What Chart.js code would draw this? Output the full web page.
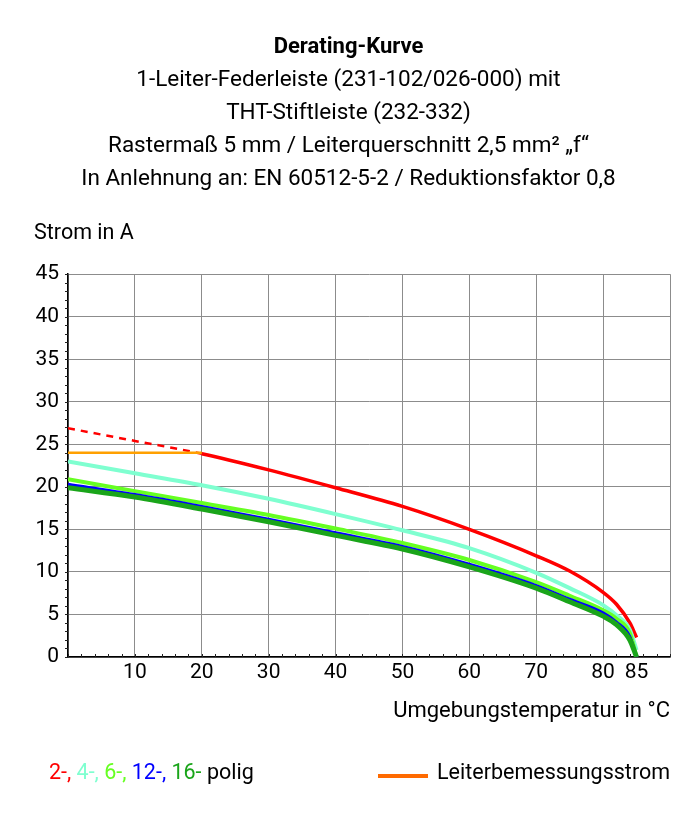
<!DOCTYPE html>
<html>
<head>
<meta charset="utf-8">
<script src="https://cdn.jsdelivr.net/npm/chart.js@4.4.1/dist/chart.umd.min.js"></script>
<style>
  body { margin: 0; background: #fff; }
  canvas { display: block; }
</style>
</head>
<body>
<canvas id="grafico" width="697" height="819"></canvas>
<script>
// Temperaturen (x) und Ströme je Polzahl (y)
const temperaturen = [0, 10, 20, 30, 40, 50, 60, 70, 75, 80, 82, 84, 85];
const strom2pol  = [26.9, 25.4, 23.9, 22.0, 19.9, 17.7, 15.0, 11.9, 10.1, 7.6, 6.2, 4.0, 2.3];
const strom4pol  = [23.0, 21.6, 20.2, 18.6, 16.8, 14.9, 12.8, 9.9, 8.1, 6.1, 4.9, 3.2, 0.8];
const strom6pol  = [20.9, 19.5, 18.1, 16.7, 15.1, 13.4, 11.4, 8.8, 7.2, 5.5, 4.5, 2.8, 0];
const strom12pol = [20.3, 19.1, 17.7, 16.2, 14.6, 13.0, 10.9, 8.4, 6.8, 5.2, 4.1, 2.4, 0];
const strom16pol = [19.9, 18.8, 17.4, 15.9, 14.3, 12.7, 10.6, 8.1, 6.5, 4.8, 3.8, 2.0, 0];
const bemessungsstrom = [24, 24, 24, null, null, null, null, null, null, null, null, null, null];

const xTicks = [0, 10, 20, 30, 40, 50, 60, 70, 80, 85, 90];

const titel = 'Derating-Kurve';
const untertitel = [
    '1-Leiter-Federleiste (231-102/026-000) mit',
    'THT-Stiftleiste (232-332)',
    'Rastermaß 5 mm / Leiterquerschnitt 2,5 mm² „f“',
    'In Anlehnung an: EN 60512-5-2 / Reduktionsfaktor 0,8'
];

const FONT = 'Roboto, "Liberation Sans", sans-serif';

function punkte(werte) {
    return temperaturen.map((t, i) => ({ x: t, y: werte[i] }));
}

// kleine Ticks an den Achsen und Beschriftungen außerhalb der Achsen
const extras = {
    id: 'extras',
    beforeDatasetsDraw(chart) {
        const ctx = chart.ctx;
        const x = chart.scales.x, y = chart.scales.y;
        const a = chart.chartArea;
        ctx.save();
        ctx.strokeStyle = '#222';
        ctx.lineWidth = 1;
        ctx.beginPath();
        for (let t = 0; t <= 90; t += 2) {
            const px = Math.round(x.getPixelForValue(t)) + 0.5;
            ctx.moveTo(px, a.bottom);
            ctx.lineTo(px, a.bottom - 3);
        }
        for (let v = 0; v <= 45; v += 1) {
            const py = Math.round(y.getPixelForValue(v)) + 0.5;
            ctx.moveTo(a.left - 3, py);
            ctx.lineTo(a.left, py);
        }
        ctx.stroke();
        ctx.restore();
    },
    afterDraw(chart) {
        const ctx = chart.ctx;
        const a = chart.chartArea;
        ctx.save();
        ctx.font = '21.5px ' + FONT;
        ctx.textBaseline = 'middle';
        ctx.fillStyle = '#000';
        ctx.textAlign = 'left';
        ctx.fillText('Strom in A', 34, a.top - 41);

        // Legende
        const teile = [
            ['2-,', '#ff0000'], [' 4-,', '#7fffd0'], [' 6-,', '#66ff22'],
            [' 12-,', '#0000ff'], [' 16-', '#1aa51a'], [' polig', '#000']
        ];
        let lx = 49;
        const ly = chart.height - 45;
        teile.forEach(([txt, farbe]) => {
            ctx.fillStyle = farbe;
            ctx.fillText(txt, lx, ly);
            lx += ctx.measureText(txt).width;
        });
        ctx.strokeStyle = '#ff6a00';
        ctx.lineWidth = 4;
        ctx.beginPath();
        ctx.moveTo(378, ly + 2);
        ctx.lineTo(428, ly + 2);
        ctx.stroke();
        ctx.fillStyle = '#000';
        ctx.fillText('Leiterbemessungsstrom', 437, ly);
        ctx.restore();
    }
};

const config = {
    type: 'line',
    data: {
        datasets: [
            {
                label: '16-polig', data: punkte(strom16pol),
                borderColor: '#1aa51a', borderWidth: 5
            },
            {
                label: '12-polig', data: punkte(strom12pol),
                borderColor: '#0000ff', borderWidth: 3
            },
            {
                label: '6-polig', data: punkte(strom6pol),
                borderColor: '#66ff22', borderWidth: 4
            },
            {
                label: '4-polig', data: punkte(strom4pol),
                borderColor: '#7fffd0', borderWidth: 4
            },
            {
                label: 'Leiterbemessungsstrom', data: punkte(bemessungsstrom),
                borderColor: '#ffa000', borderWidth: 2.5, cubicInterpolationMode: 'default', tension: 0
            },
            {
                label: '2-polig', data: punkte(strom2pol),
                borderColor: '#ff0000', borderWidth: 3,
                segment: {
                    borderDash: c => c.p1.parsed.x <= 20 ? [7, 6] : undefined,
                    borderWidth: c => c.p1.parsed.x <= 20 ? 2.5 : 3.5
                }
            }
        ]
    },
    options: {
        responsive: false,
        animation: false,
        parsing: false,
        elements: {
            point: { radius: 0 },
            line: { cubicInterpolationMode: 'monotone', fill: false }
        },
        layout: { padding: { left: 27, right: 27, top: 0, bottom: 92 } },
        plugins: {
            legend: { display: false },
            tooltip: { enabled: false },
            title: {
                display: true, text: titel, color: '#000',
                font: { family: FONT, size: 22, weight: 'bold', lineHeight: 1.45 },
                padding: { top: 32, bottom: 0 }
            },
            subtitle: {
                display: true, text: untertitel, color: '#000',
                font: { family: FONT, size: 22.5, lineHeight: 1.47 },
                padding: { top: 0, bottom: 78 }
            }
        },
        scales: {
            x: {
                type: 'linear', min: 0, max: 90,
                afterBuildTicks: s => { s.ticks = xTicks.map(v => ({ value: v })); },
                afterFit: s => { s.height = 70; },
                ticks: {
                    color: '#000', padding: 3, maxRotation: 0, autoSkip: false,
                    font: { family: FONT, size: 21 },
                    callback: v => (v === 0 || v === 90) ? '' : String(v)
                },
                grid: {
                    drawTicks: false,
                    color: c => c.tick && c.tick.value === 85 ? 'rgba(0,0,0,0)' : '#8c8c8c'
                },
                border: { color: '#000', width: 1.5 },
                title: {
                    display: true, text: 'Umgebungstemperatur in °C', align: 'end', color: '#000',
                    font: { family: FONT, size: 22 },
                    padding: { top: 0, bottom: 2 }
                }
            },
            y: {
                min: 0, max: 45,
                afterFit: s => { s.width = 41; },
                ticks: {
                    stepSize: 5, color: '#000', padding: 9,
                    font: { family: FONT, size: 21 }
                },
                grid: { drawTicks: false, color: '#8c8c8c' },
                border: { color: '#000', width: 1.5 }
            }
        }
    },
    plugins: [extras]
};

new Chart(document.getElementById('grafico'), config);
</script>
</body>
</html>
